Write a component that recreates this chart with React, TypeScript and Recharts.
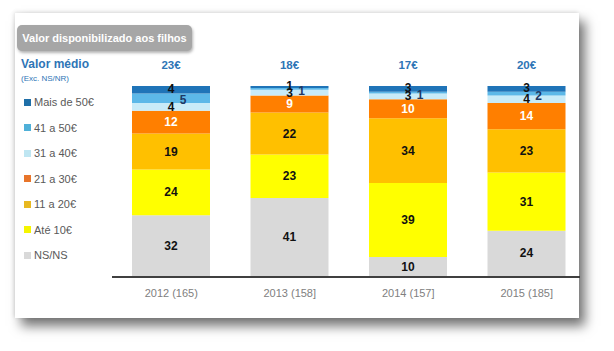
import { BarChart, Bar, XAxis, YAxis, LabelList } from "recharts";

const anos = ["2012 (165)", "2013 (158]", "2014 (157]", "2015 (185]"];
const medias = ["23€", "18€", "17€", "20€"];
const nsns = [32, 41, 10, 24];
const ate10 = [24, 23, 39, 31];
const de11a20 = [19, 22, 34, 23];
const de21a30 = [12, 9, 10, 14];
const de31a40 = [4, 3, 3, 4];
const de41a50 = [5, 1, 1, 2];
const mais50 = [4, 1, 3, 3];

const series = [
  { key: "nsns", name: "NS/NS", values: nsns, color: "#d9d9d9", legend: "#d9d9d9", text: "#111" },
  { key: "ate10", name: "Até 10€", values: ate10, color: "#ffff00", legend: "#f5f500", text: "#111" },
  { key: "de11a20", name: "11 a 20€", values: de11a20, color: "#ffc000", legend: "#e8b820", text: "#111" },
  { key: "de21a30", name: "21 a 30€", values: de21a30, color: "#ff7f00", legend: "#e8752a", text: "#fff" },
  { key: "de31a40", name: "31 a 40€", values: de31a40, color: "#c8ebf8", legend: "#bfe6f2", text: "#111" },
  { key: "de41a50", name: "41 a 50€", values: de41a50, color: "#5cb8e8", legend: "#4fb0d8", text: "#1f3864", dx: 12, dy: 2 },
  { key: "mais50", name: "Mais de 50€", values: mais50, color: "#1f74b8", legend: "#1f6fa8", text: "#111", dy: -1 },
];

const data = anos.map((ano, i) => {
  const row: Record<string, string | number> = { ano, media: medias[i] };
  series.forEach((s) => {
    row[s.key] = s.values[i];
  });
  return row;
});

const font = "'Liberation Sans', Arial, sans-serif";

const valueLabel = (color: string, dx = 0, dy = 0) => (props: any) => {
  const { x, y, width, height, value } = props;
  return (
    <text
      x={x + width / 2 + dx}
      y={y + height / 2 + dy}
      textAnchor="middle"
      dominantBaseline="central"
      fill={color}
      fontSize={12}
      fontWeight="bold"
      fontFamily={font}
    >
      {value}
    </text>
  );
};

const mediaLabel = (props: any) => {
  const { x, y, width, value } = props;
  return (
    <text
      x={x + width / 2}
      y={y - 21}
      textAnchor="middle"
      dominantBaseline="central"
      fill="#2e75b6"
      fontSize={11.5}
      fontWeight="bold"
      fontFamily={font}
    >
      {value}
    </text>
  );
};

export default function App() {
  return (
    <div
      style={{
        position: "absolute",
        left: 0,
        top: 0,
        width: 614,
        height: 351,
        background: "#fff",
        fontFamily: font,
        overflow: "hidden",
      }}
    >
      <div
        style={{
          position: "absolute",
          left: 15,
          top: 13,
          width: 564,
          height: 305,
          background: "#fff",
          boxShadow: "6px 8px 11px rgba(0,0,0,0.55), -1px -1px 4px rgba(0,0,0,0.12)",
        }}
      />
      <div
        style={{
          position: "absolute",
          left: 17,
          top: 25,
          width: 175,
          height: 26,
          background: "#a6a6a6",
          borderRadius: 5,
          boxShadow: "1px 2px 3px rgba(0,0,0,0.3)",
          color: "#fff",
          fontSize: 11,
          fontWeight: "bold",
          lineHeight: "26px",
          textAlign: "center",
        }}
      >
        Valor disponibilizado aos filhos
      </div>
      <div
        style={{
          position: "absolute",
          left: 21,
          top: 57,
          color: "#2e75b6",
          fontSize: 12,
          fontWeight: "bold",
        }}
      >
        Valor médio
      </div>
      <div
        style={{
          position: "absolute",
          left: 21,
          top: 74,
          color: "#2e75b6",
          fontSize: 8,
        }}
      >
        (Exc. NS/NR)
      </div>
      {series
        .slice()
        .reverse()
        .map((s, i) => (
          <div
            key={s.key}
            style={{
              position: "absolute",
              left: 24,
              top: 95 + i * 25.5,
              height: 14,
              display: "flex",
              alignItems: "center",
              color: "#595959",
              fontSize: 11,
            }}
          >
            <span
              style={{
                display: "inline-block",
                width: 7,
                height: 7,
                background: s.legend,
                marginRight: 3,
              }}
            />
            {s.name}
          </div>
        ))}
      <div
        style={{
          position: "absolute",
          left: 112,
          top: 276,
          width: 468,
          height: 2,
          background: "#404040",
        }}
      />
      <div style={{ position: "absolute", left: 0, top: 0 }}>
        <BarChart
          width={614}
          height={351}
          data={data}
          stackOffset="expand"
          barSize={78}
          margin={{ top: 86, right: 28, bottom: 45, left: 112 }}
        >
          <XAxis
            dataKey="ano"
            axisLine={false}
            tickLine={false}
            height={30}
            tick={{ fill: "#808080", fontSize: 11, fontFamily: font }}
            dy={5}
          />
          <YAxis hide domain={[0, 1]} />
          {series.map((s, i) => (
            <Bar
              key={s.key}
              dataKey={s.key}
              stackId="a"
              fill={s.color}
              isAnimationActive={false}
            >
              <LabelList
                dataKey={s.key}
                content={valueLabel(s.text, s.dx || 0, s.dy || 0)}
              />
              {i === series.length - 1 && (
                <LabelList dataKey="media" content={mediaLabel} />
              )}
            </Bar>
          ))}
        </BarChart>
      </div>
    </div>
  );
}
